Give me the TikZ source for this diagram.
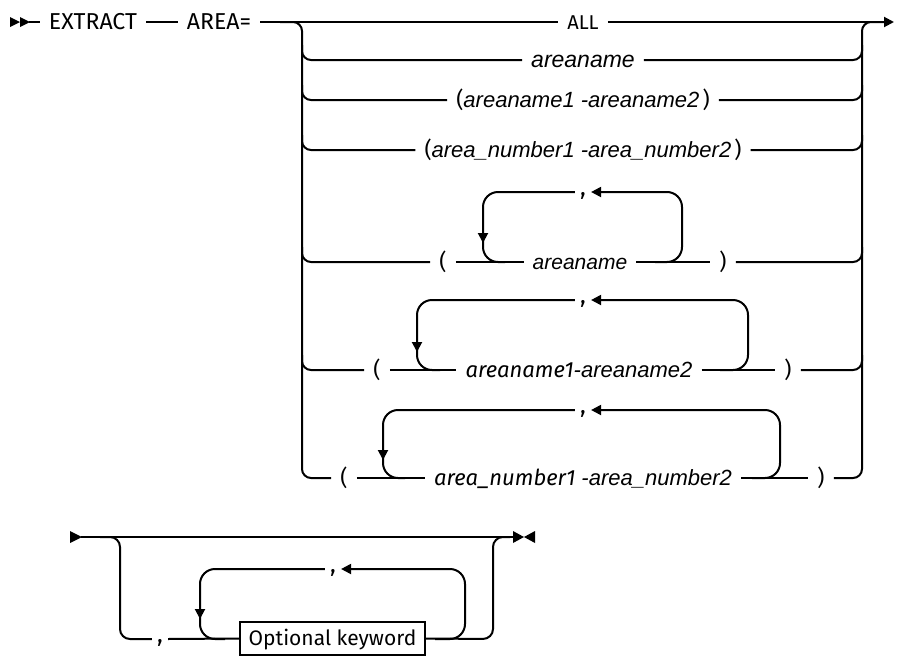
\documentclass[tikz,border=0pt]{standalone}
\usepackage{fontspec}
\setmainfont{Fira Sans}
\newfontfamily\arfont{Liberation Sans}
\usetikzlibrary{arrows.meta}
\begin{document}
\begin{tikzpicture}[x=1pt,y=-1pt,
  ln/.style={line width=2pt},
  tip/.style={-{Triangle[length=10pt,width=10pt]}},
  txt/.style={inner xsep=9pt, inner ysep=0pt, text height=14pt, text depth=0pt, anchor=center},
  rg/.style={txt, font=\fontsize{#1}{#1}\selectfont},
  ait/.style={txt, font=\fontsize{#1}{#1}\selectfont\arfont\itshape},
  cma/.style={inner xsep=5pt, inner ysep=0pt, text height=6pt, text depth=0pt, anchor=center, font=\fontsize{24}{24}\selectfont},
  kbox/.style={draw, line width=1.6pt, minimum width=185pt, minimum height=33pt, inner sep=0pt, text height=14pt, text depth=0pt, font=\fontsize{21}{21}\selectfont},
  marker/.style={fill=black}
]
\useasboundingbox (0,0) rectangle (900,656);

% ---------- top part ----------
\fill[marker] (10,17) -- (20,22) -- (10,27) -- cycle;
\fill[marker] (20,17) -- (30,22) -- (20,27) -- cycle;
\coordinate (s0) at (29,22);
\node[rg=23] (ex) at (93,22) {EXTRACT};
\node[rg=23] (ar) at (219,22) {AREA=};
\node[rg=20] (all) at (583,22) {ALL};
\coordinate (endA) at (894,22);

\draw[ln] (s0) -- (ex.west);
\draw[ln] (ex.east) -- (ar.west);
\draw[ln] (ar.east) -- (all.west);
\draw[ln,tip] (all.east) -- (endA);

% row 2
\node[ait=23] (r2) at (583,60) {areaname};
% row 3
\node[rg=22] (r3) at (583,100) {({\arfont\itshape areaname1 -areaname2}\kern3pt)};
% row 4
\node[rg=22] (r4) at (583,150) {({\arfont\itshape area\_number1 -area\_number2}\kern3pt)};

% loop rows
\node[rg=22] (pl1) at (443,262) {(};
\node[ait=21] (t1) at (580,262) {areaname};
\node[rg=22] (pr1) at (723,262) {)};
\node[cma] (c1) at (583,192) {,};

\node[rg=22] (pl2) at (377,370) {(};
\node[rg=22] (t2) at (579,370) {{\itshape areaname1}{\arfont\itshape -areaname2}};
\node[rg=22] (pr2) at (788,370) {)};
\node[cma] (c2) at (583,300) {,};

\node[rg=22] (pl3) at (344,478) {(};
\node[rg=22] (t3) at (583,478) {{\itshape area\_number1} {\arfont\itshape -area\_number2}};
\node[rg=22] (pr3) at (821,478) {)};
\node[cma] (c3) at (583,410) {,};

% left bracket
\draw[ln, rounded corners=9pt] (280,22) -- (302,22) -- (302,478) -- (pl3.west);
\foreach \yy/\nd in {60/r2,100/r3,150/r4,262/pl1,370/pl2}
  \draw[ln, rounded corners=9pt] (302,\yy-15) -- (302,\yy) -- (\nd.west);

% right bracket
\draw[ln, rounded corners=9pt] (pr3.east) -- (862,478) -- (862,22) -- (885,22);
\foreach \yy/\nd in {60/r2,100/r3,150/r4,262/pr1,370/pr2}
  \draw[ln, rounded corners=9pt] (\nd.east) -- (862,\yy) -- (862,\yy-15);

% row links
\draw[ln] (pl1.east) -- (t1.west);
\draw[ln] (t1.east) -- (pr1.west);
\draw[ln] (pl2.east) -- (t2.west);
\draw[ln] (t2.east) -- (pr2.west);
\draw[ln] (pl3.east) -- (t3.west);
\draw[ln] (t3.east) -- (pr3.west);

% loop 1
\draw[ln, rounded corners=15pt, tip] (c1.west) -- (483,192) -- (483,243);
\draw[ln, rounded corners=15pt] (483,235) -- (483,262) -- (505,262);
\draw[ln, rounded corners=15pt, tip] (655,262) -- (682,262) -- (682,192) -- (c1.east);
% loop 2
\draw[ln, rounded corners=15pt, tip] (c2.west) -- (417,300) -- (417,352);
\draw[ln, rounded corners=15pt] (417,344) -- (417,370) -- (440,370);
\draw[ln, rounded corners=15pt, tip] (720,370) -- (748,370) -- (748,300) -- (c2.east);
% loop 3
\draw[ln, rounded corners=15pt, tip] (c3.west) -- (383,410) -- (383,460);
\draw[ln, rounded corners=15pt] (383,452) -- (383,478) -- (405,478);
\draw[ln, rounded corners=15pt, tip] (752,478) -- (780,478) -- (780,410) -- (c3.east);

% ---------- bottom part ----------
\fill[marker] (70,531) -- (82,537) -- (70,543) -- cycle;
\coordinate (s1) at (81,537);
\coordinate (e1) at (514,537);
\fill[marker] (513,531) -- (524,537) -- (513,543) -- cycle;
\fill[marker] (535,531) -- (524,537) -- (535,543) -- cycle;
\draw[ln] (s1) -- (e1);

\node[cma] (cb) at (160,639) {,};
\node[kbox] (ok) at (332.5,638.5) {Optional keyword};
\node[cma] (cl) at (333,569) {,};

\draw[ln, rounded corners=10pt] (100,537) -- (120,537) -- (120,639) -- (cb.west);
\draw[ln] (cb.east) -- (ok.west);
\draw[ln, rounded corners=10pt] (ok.east) -- (493,639) -- (493,537) -- (510,537);

\draw[ln, rounded corners=15pt, tip] (cl.west) -- (200,569) -- (200,619);
\draw[ln, rounded corners=15pt] (200,611) -- (200,639) -- (225,639);
\draw[ln, rounded corners=15pt, tip] (435,639) -- (465,639) -- (465,569) -- (cl.east);
\end{tikzpicture}
\end{document}
